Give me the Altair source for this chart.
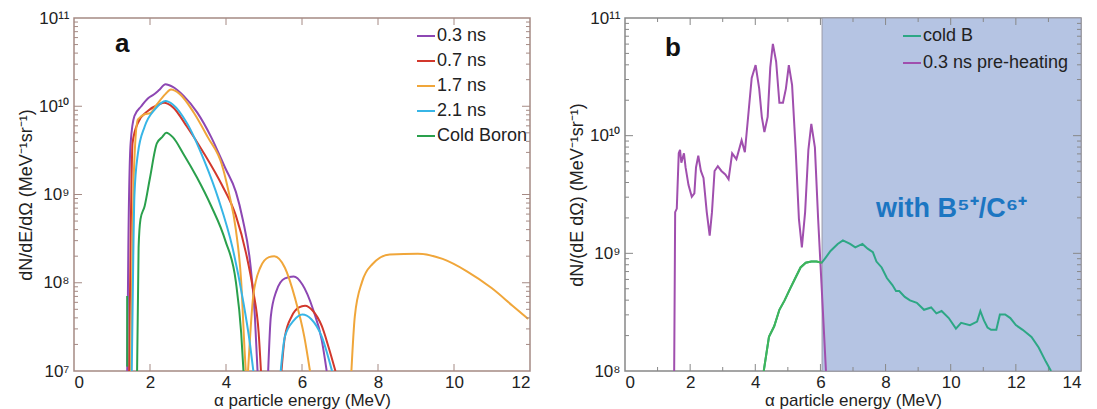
import altair as alt
import pandas as pd

FONT = "Liberation Sans"

# ---------------- Panel a data (energy MeV, log10 of dN/dE/dΩ) ----------------
a_series = ["0.3 ns", "0.7 ns", "1.7 ns", "2.1 ns", "Cold Boron"]
a_colors = ["#8d47b3", "#d2382c", "#f0a63a", "#37b5e6", "#2aa04c"]

p03_E1 = [1.40, 1.43, 1.49, 1.59, 1.77, 1.95, 2.09, 2.23, 2.41, 2.60, 2.88, 3.24, 3.61, 3.98, 4.26, 4.44, 4.63, 4.76, 4.83]
p03_L1 = [7.0, 8.4, 9.58, 9.89, 10.0, 10.09, 10.13, 10.18, 10.25, 10.22, 10.12, 9.93, 9.65, 9.30, 9.03, 8.72, 8.25, 7.62, 7.0]
p03_E2 = [5.11, 5.18, 5.32, 5.55, 5.78, 6.01, 6.29, 6.52, 6.65]
p03_L2 = [7.0, 7.62, 7.90, 8.05, 8.07, 7.98, 7.70, 7.35, 7.0]

p07_E1 = [1.45, 1.50, 1.54, 1.68, 1.95, 2.23, 2.37, 2.60, 2.97, 3.43, 3.89, 4.26, 4.53, 4.72, 4.86, 4.92]
p07_L1 = [7.0, 8.8, 9.58, 9.81, 9.95, 10.02, 10.04, 9.99, 9.77, 9.46, 9.11, 8.76, 8.33, 7.90, 7.43, 7.0]
p07_E2 = [5.46, 5.55, 5.73, 5.92, 6.08, 6.29, 6.52, 6.70, 6.88]
p07_L2 = [7.0, 7.39, 7.62, 7.72, 7.74, 7.68, 7.51, 7.27, 7.0]

p17_E1 = [1.50, 1.54, 1.57, 1.68, 1.86, 2.00, 2.18, 2.41, 2.55, 2.78, 3.15, 3.52, 3.89, 4.07, 4.26, 4.40, 4.49, 4.52]
p17_L1 = [7.0, 8.5, 9.19, 9.85, 9.91, 9.92, 10.02, 10.14, 10.19, 10.14, 9.93, 9.65, 9.34, 9.03, 8.60, 8.01, 7.23, 7.0]
p17_E2 = [4.58, 4.72, 4.90, 5.13, 5.27, 5.55, 5.82, 6.06, 6.21]
p17_L2 = [7.0, 7.86, 8.17, 8.29, 8.30, 8.17, 7.82, 7.39, 7.0]
p17_E3 = [7.30, 7.39, 7.58, 7.85, 8.31, 9.05, 9.70, 10.34, 10.99, 11.54, 11.95]
p17_L3 = [7.0, 7.62, 8.01, 8.21, 8.32, 8.33, 8.27, 8.13, 7.94, 7.74, 7.59]

p21_E1 = [1.52, 1.56, 1.59, 1.68, 1.86, 2.14, 2.41, 2.60, 2.97, 3.43, 3.80, 4.17, 4.44, 4.63, 4.72]
p21_L1 = [7.0, 8.3, 8.99, 9.46, 9.77, 9.97, 10.06, 10.02, 9.81, 9.38, 8.95, 8.40, 7.82, 7.31, 7.0]
p21_E2 = [5.44, 5.55, 5.78, 6.01, 6.24, 6.52, 6.79]
p21_L2 = [7.0, 7.39, 7.57, 7.64, 7.59, 7.39, 7.0]

cold_E0 = [1.40, 1.40]
cold_L0 = [7.05, 7.85]
cold_E1 = [1.66, 1.70, 1.75, 1.86, 2.00, 2.18, 2.32, 2.43, 2.60, 2.88, 3.24, 3.61, 3.98, 4.26, 4.40, 4.46]
cold_L1 = [7.0, 8.40, 8.72, 8.87, 9.19, 9.58, 9.65, 9.70, 9.65, 9.46, 9.19, 8.87, 8.48, 8.01, 7.43, 7.0]

# ---------------- Panel b data ----------------
b_series = ["cold B", "0.3 ns pre-heating"]
b_colors = ["#2da785", "#a04fae"]

pre_E = [1.51, 1.54, 1.59, 1.65, 1.69, 1.73, 1.81, 1.86, 1.95, 2.05, 2.13, 2.18, 2.25, 2.33, 2.41,
         2.51, 2.60, 2.67, 2.75, 2.85, 2.96, 3.08, 3.18, 3.29, 3.42, 3.58, 3.68, 3.80, 3.89, 4.01,
         4.12, 4.20, 4.28, 4.38, 4.46, 4.54, 4.64, 4.74, 4.85, 4.94, 5.03, 5.13, 5.24, 5.34, 5.43,
         5.53, 5.63, 5.72, 5.83, 5.93, 6.04, 6.17]
pre_L = [8.0, 9.35, 9.38, 9.85, 9.88, 9.77, 9.85, 9.73, 9.58, 9.48, 9.51, 9.73, 9.83, 9.70, 9.64,
         9.35, 9.15, 9.35, 9.70, 9.74, 9.70, 9.67, 9.63, 9.85, 9.80, 9.96, 9.86, 10.22, 10.49, 10.60,
         10.40, 10.16, 10.03, 10.16, 10.58, 10.78, 10.63, 10.28, 10.28, 10.40, 10.60, 10.43, 9.88, 9.29, 9.05,
         9.35, 9.88, 10.10, 9.90, 9.29, 8.70, 8.0]

coldB_E = [4.26, 4.42, 4.58, 4.74, 4.90, 5.07, 5.23, 5.39, 5.55, 5.72, 5.88, 6.04, 6.15, 6.31, 6.53,
           6.69, 6.91, 7.07, 7.29, 7.45, 7.61, 7.72, 7.88, 8.04, 8.21, 8.32, 8.42, 8.59, 8.75, 8.96,
           9.18, 9.40, 9.56, 9.72, 9.94, 10.16, 10.32, 10.59, 10.81, 10.91, 11.02, 11.13, 11.24, 11.40, 11.51,
           11.67, 11.83, 12.0, 12.21, 12.48, 12.70, 12.92, 13.08]
coldB_L = [8.0, 8.29, 8.38, 8.52, 8.60, 8.70, 8.79, 8.88, 8.92, 8.93, 8.93, 8.92, 8.96, 9.02, 9.08,
           9.11, 9.08, 9.05, 9.08, 9.04, 9.01, 8.93, 8.88, 8.79, 8.73, 8.68, 8.68, 8.63, 8.60, 8.58,
           8.52, 8.54, 8.49, 8.51, 8.45, 8.36, 8.41, 8.39, 8.42, 8.51, 8.43, 8.37, 8.35, 8.35, 8.48,
           8.48, 8.45, 8.39, 8.35, 8.29, 8.20, 8.08, 8.0]

shade_from = 6.05
shade_to = 14.0

# ---------------- build tables ----------------
def rows(series, seg, E, L):
    return [{"series": series, "seg": f"{series}-{seg}", "E": e, "v": 10 ** l} for e, l in zip(E, L)]

a_rows = []
a_rows += rows("0.3 ns", 1, p03_E1, p03_L1) + rows("0.3 ns", 2, p03_E2, p03_L2)
a_rows += rows("0.7 ns", 1, p07_E1, p07_L1) + rows("0.7 ns", 2, p07_E2, p07_L2)
a_rows += rows("1.7 ns", 1, p17_E1, p17_L1) + rows("1.7 ns", 2, p17_E2, p17_L2) + rows("1.7 ns", 3, p17_E3, p17_L3)
a_rows += rows("2.1 ns", 1, p21_E1, p21_L1) + rows("2.1 ns", 2, p21_E2, p21_L2)
a_rows += rows("Cold Boron", 0, cold_E0, cold_L0) + rows("Cold Boron", 1, cold_E1, cold_L1)
a_df = pd.DataFrame(a_rows)

b_df = pd.DataFrame(rows("cold B", 1, coldB_E, coldB_L) + rows("0.3 ns pre-heating", 1, pre_E, pre_L))

W, H = 456, 353
SUP = {"0": "⁰", "1": "¹", "2": "²", "3": "³", "4": "⁴", "5": "⁵", "6": "⁶", "7": "⁷", "8": "⁸", "9": "⁹"}


def sup(n):
    return "".join(SUP[c] for c in str(n))


def decade_label_expr(exps):
    expr = "''"
    for e in reversed(exps):
        expr = f"(abs(log(datum.value)/log(10) - {e}) < 0.01) ? '10{sup(e)}' : " + expr
    return expr


def panel(df, series, colors, xmax, xmajor, xminor, ylo, yhi, frame, ytitle, legx, legy, rowpad, label, labx, laby):
    xs = alt.Scale(domain=[0, xmax], nice=False, zero=False)
    ys = alt.Scale(type="log", domain=[10 ** ylo, 10 ** yhi], nice=False)
    exps = list(range(ylo, yhi + 1))
    ymaj = pd.DataFrame({"v": [10 ** e for e in exps[1:-1]]})
    ymin = pd.DataFrame({"v": [m * 10 ** e for e in exps[:-1] for m in range(2, 10)]})
    xmaj_df = pd.DataFrame({"E": xmajor})
    xmin_df = pd.DataFrame({"E": xminor})

    ax_y = alt.Axis(
        values=[10 ** e for e in exps], labelExpr=decade_label_expr(exps), ticks=False, domain=False,
        grid=False, labelFontSize=17, labelFont=FONT, labelColor="#222", labelPadding=5,
        title=ytitle, titleFont=FONT, titleFontSize=18, titleFontWeight="normal", titleColor="#222",
        titlePadding=3,
    )
    ax_x = alt.Axis(
        values=list(range(0, xmax + 1, 2)), format="d", ticks=False, domain=False, grid=False,
        labelFontSize=17, labelFont=FONT, labelColor="#222", labelPadding=3,
        title="α particle energy (MeV)", titleFont=FONT, titleFontSize=17, titleFontWeight="normal",
        titleColor="#222", titlePadding=2,
    )
    X = lambda f: alt.X(f, scale=xs, axis=ax_x)
    Y = lambda f: alt.Y(f, scale=ys, axis=ax_y)

    lines = alt.Chart(df).mark_line(strokeWidth=2, clip=True, interpolate="monotone" if label == "a" else "linear").encode(
        x=X("E:Q"),
        y=Y("v:Q"),
        detail="seg:N",
        color=alt.Color("series:N", scale=alt.Scale(domain=series, range=colors),
                        legend=alt.Legend(orient="none", legendX=legx, legendY=legy, title=None,
                                          labelFontSize=18, labelFont=FONT, labelColor="#222",
                                          symbolType="stroke", symbolSize=324, symbolStrokeWidth=2,
                                          rowPadding=rowpad, labelOffset=1, padding=0)),
        order=alt.Order("idx:Q"),
    ).transform_window(idx="row_number()")

    def yticks(d, length):
        l = alt.Chart(d).mark_rule(color=frame, strokeWidth=1).encode(
            y=Y("v:Q"), x=alt.value(0), x2=alt.value(length))
        r = alt.Chart(d).mark_rule(color=frame, strokeWidth=1).encode(
            y=Y("v:Q"), x=alt.value(W - length), x2=alt.value(W))
        return [l, r]

    def xticks(d, length):
        bt = alt.Chart(d).mark_rule(color=frame, strokeWidth=1).encode(
            x=X("E:Q"), y=alt.value(H - length), y2=alt.value(H))
        tp = alt.Chart(d).mark_rule(color=frame, strokeWidth=1).encode(
            x=X("E:Q"), y=alt.value(0), y2=alt.value(length))
        return [bt, tp]

    ticks = yticks(ymaj, 8) + yticks(ymin, 4) + xticks(xmaj_df, 7)
    if len(xminor):
        ticks += xticks(xmin_df, 4)

    lab = alt.Chart(pd.DataFrame({"t": [label]})).mark_text(
        font=FONT, fontSize=26, fontWeight="bold", align="left", baseline="alphabetic", color="#111"
    ).encode(text="t:N", x=alt.value(labx), y=alt.value(laby))
    return X, Y, lines, ticks, lab


# panel a
X_a, Y_a, lines_a, ticks_a, lab_a = panel(
    a_df, a_series, a_colors, 12, [2, 4, 6, 8, 10], [], 7, 11, "#a58a84",
    "dN/dE/dΩ (MeV⁻¹sr⁻¹)", 342, 8, 6, "a", 41, 34)
chart_a = alt.layer(lines_a, *ticks_a, lab_a).properties(
    width=W, height=H, view=alt.ViewBackground(stroke="#a58a84", strokeWidth=1.5))

# panel b
X_b, Y_b, lines_b, ticks_b, lab_b = panel(
    b_df, b_series, b_colors, 14, [2, 4, 6, 8, 10, 12], [1, 3, 5, 7, 9, 11, 13], 8, 11, "#888888",
    "dN/(dE dΩ) (MeV⁻¹sr⁻¹)", 277, 8, 8, "b", 40, 38)

shade = alt.Chart(pd.DataFrame({"x0": [shade_from], "x1": [shade_to]})).mark_rect(
    color="#b5c4e3", stroke="#9a9aa8", strokeWidth=1).encode(
    x=X_b("x0:Q"), x2="x1:Q", y=alt.value(0), y2=alt.value(H))

green_white = alt.Chart(b_df).transform_filter(
    (alt.datum.series == "cold B") & (alt.datum.E <= 6.05)
).mark_line(strokeWidth=2, clip=True, color="#3fb55a").encode(
    x=X_b("E:Q"), y=Y_b("v:Q"))

note = alt.Chart(pd.DataFrame({"t": ["with B⁵⁺/C⁶⁺"]})).mark_text(
    font=FONT, fontSize=27, fontWeight="bold", align="left", baseline="alphabetic", color="#1c76c2"
).encode(text="t:N", x=alt.value(251), y=alt.value(199))

chart_b = alt.layer(shade, *ticks_b, lines_b, green_white, lab_b, note).properties(
    width=W, height=H, view=alt.ViewBackground(stroke="#888888", strokeWidth=1.5))

chart = alt.hconcat(chart_a, chart_b, spacing=95, bounds="flush").resolve_scale(
    color="independent", x="independent", y="independent"
).properties(
    padding={"left": 8, "top": 0, "right": 0, "bottom": 0},
).configure(background="white")

chart.save("out.html", embed_options={"renderer": "svg", "actions": False})
